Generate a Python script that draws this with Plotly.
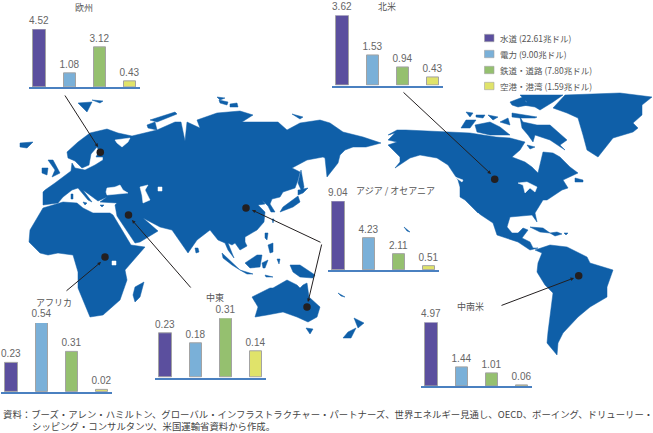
import plotly.graph_objects as go

REGIONS = ["欧州", "北米", "アジア / オセアニア", "アフリカ", "中東", "中南米"]
WATER = [4.52, 3.62, 9.04, 0.23, 0.23, 4.97]
POWER = [1.08, 1.53, 4.23, 0.54, 0.18, 1.44]
RAIL = [3.12, 0.94, 2.11, 0.31, 0.31, 1.01]
AIRPORT = [0.43, 0.43, 0.51, 0.02, 0.14, 0.06]
SERIES_LABELS = ["水道 (22.61兆ドル)", "電力 (9.00兆ドル)", "鉄道・道路 (7.80兆ドル)", "空港・港湾 (1.59兆ドル)"]
SERIES_COLORS = ["#5b4f9e", "#7ab0d8", "#95c06f", "#e0e36a"]
FOOT1 = "資料：ブーズ・アレン・ハミルトン、グローバル・インフラストラクチャー・パートナーズ、世界エネルギー見通し、OECD、ボーイング、ドリューリー・"
FOOT2 = "シッピング・コンサルタンツ、米国運輸省資料から作成。"

# panel frames in pixels: left edge, baseline, pixels per unit, title centre
PANEL_LEFT = [29, 332, 328, 1, 155, 421]
PANEL_BASE = [87, 85.5, 270.3, 392, 377.7, 386]
PANEL_SCALE = [12.75, 19.35, 7.65, 128, 191.6, 12.8]
TITLE_POS = [(84, 8), (387, 6), (395, 190), (54, 302), (215, 297), (470, 306)]

# base map outline (pixel frame of the picture)
LAND = [
    [(43,192),(45,190),(55,183),(63,177),(71,171),(72,163),(75,168),(85,170),(95,165),(103,160),(103,157),(96,157),(99,151),(97,147),
     (91,154),(89,165),(82,168),(75,161),(68,158),(67,152),(78,142),(90,133),(107,129),(118,133),(132,136),(157,130),(175,122),(181,122),
     (185,141),(187,122),(200,128),(197,120),(217,113),(240,111),(253,115),(242,122),(263,122),(278,122),(287,130),(300,123),(320,120),
     (330,123),(343,132),(363,137),(381,143),(366,147),(353,147),(345,150),(340,155),(338,163),(327,177),(325,158),(323,157),(307,160),
     (292,168),(300,172),(298,180),(295,188),(283,192),(280,197),(272,199),(270,204),(275,212),(271,212),(268,206),(262,200),(265,204),
     (258,205),(265,212),(264,222),(257,230),(245,237),(245,242),(247,246),(240,250),(235,243),(232,245),(228,243),(234,258),(228,250),
     (225,243),(218,240),(210,230),(197,240),(188,253),(172,230),(160,227),(143,218),(152,226),(158,231),(140,242),(135,243),(117,216),
     (115,205),(117,203),(100,202),(107,197),(98,201),(83,190),(92,202),(88,200),(78,188),(72,190),(63,197),(58,203),(43,205)],
    [(43,208),(37,218),(30,230),(29,242),(40,253),(48,255),(58,253),(73,255),(78,272),(78,288),(90,317),(103,315),(120,300),(127,280),
     (125,270),(145,247),(131,245),(113,215),(110,213),(93,213),(83,208),(77,203),(63,202)],
    [(135,287),(144,282),(140,297),(135,302),(133,295)],
    [(48,160),(53,160),(60,173),(52,177),(55,170)], [(42,168),(48,168),(47,175),(42,173)], [(20,143),(33,142),(27,148),(20,147)],
    [(78,103),(92,102),(87,112)], [(92,100),(103,101),(100,103)], [(150,120),(175,112),(177,114),(157,122)], [(147,125),(155,122),(157,130),(148,128)],
    [(217,97),(225,98),(220,100)], [(219,100),(228,102),(227,105),(220,103)], [(230,104),(237,103),(238,107),(230,107)], [(292,114),(303,117),(300,119)],
    [(301,170),(304,187),(302,192),(298,183)], [(298,190),(308,188),(303,193),(298,195)], [(298,196),(300,202),(293,207),(280,212),(283,207)],
    [(265,233),(268,233),(267,240),(265,238)], [(268,245),(273,243),(273,252),(270,253)], [(242,232),(245,232),(244,235)],
    [(222,253),(233,263),(240,270),(232,265),(223,258)], [(240,270),(253,274),(247,274)], [(245,263),(257,255),(262,255),(260,267),(250,268)],
    [(262,263),(268,260),(265,268),(263,268)], [(290,265),(300,265),(315,275),(313,278),(300,277),(293,272)], [(265,275),(273,277),(266,277)],
    [(195,248),(198,248),(199,252),(196,253)], [(272,219),(274,219),(273,223)], [(277,259),(280,259),(279,264)],
    [(71,194),(73,194),(73,199),(71,199)], [(83,202),(87,203),(85,205)], [(100,205),(104,205),(102,207)],
    [(252,297),(270,288),(273,288),(287,280),(297,285),(300,288),(303,285),(307,283),(309,297),(320,307),(317,317),(308,322),(297,317),(283,312),(267,315),(255,317),(258,307)],
    [(306,328),(313,329),(310,334)], [(354,318),(364,323),(358,328)], [(356,328),(351,338),(343,338),(348,332)], [(404,227),(410,232),(407,231)], [(338,293),(345,297),(341,296)],
    [(388,135),(397,130),(406,130),(433,131),(445,132),(470,133),(496,137),(510,138),(525,142),(520,150),(512,157),(525,162),(532,167),(538,173),(543,152),(553,153),(560,157),
     (570,167),(578,173),(563,180),(568,188),(562,190),(547,200),(543,200),(535,213),(537,222),(532,215),(510,217),(507,227),(512,233),(518,233),(523,228),(528,230),
     (522,238),(530,242),(533,248),(538,248),(530,250),(518,242),(497,235),(493,223),(478,213),(465,200),(460,197),(460,187),(458,180),(448,165),(437,158),(420,155),
     (410,158),(395,168),(400,162),(400,157),(388,145),(397,142),(388,140),(395,133)],
    [(575,178),(583,180),(583,182),(575,182)],
    [(461,128),(466,120),(476,120),(470,128)], [(475,125),(490,122),(500,127),(510,135),(490,135),(477,132)], [(466,112),(473,113),(470,117)],
    [(476,115),(485,115),(483,118),(476,117)], [(488,115),(498,117),(493,120)], [(500,122),(508,118),(510,125)],
    [(520,117),(523,122),(537,125),(550,125),(567,140),(560,145),(565,150),(550,140),(535,135),(533,142),(528,135),(522,128)],
    [(530,95),(563,95),(553,102),(540,110),(535,107),(523,105),(527,102),(520,95)], [(510,102),(523,97),(528,105),(518,107),(512,105)],
    [(512,113),(537,117),(535,118),(520,118),(512,117)], [(527,145),(535,147),(530,149)],
    [(553,108),(565,95),(620,93),(652,97),(642,105),(642,115),(633,123),(638,128),(633,132),(613,138),(598,157),(587,150),(583,135),(578,118),(567,113)],
    [(530,227),(543,228),(550,233),(540,232)], [(550,233),(557,232),(562,234),(555,236)], [(564,233),(568,233),(566,235)],
    [(535,250),(550,245),(567,247),(587,257),(590,263),(613,270),(607,287),(607,297),(590,307),(578,317),(563,333),(558,343),(557,355),(547,343),(548,332),(553,293),(545,285),(537,272),(538,263),(542,253)],
]
WATER_BODIES = [
    [(115,140),(130,138),(128,142),(122,147),(117,143)],
    [(107,188),(115,187),(120,185),(123,190),(128,193),(120,194),(107,195),(106,192)],
    [(140,187),(148,185),(145,190),(150,200),(143,203),(142,195)],
    [(158,187),(162,187),(162,191),(158,191)],
    [(112,261),(116,261),(116,265),(112,265)],
    [(518,183),(527,182),(537,187),(535,192),(530,188),(525,193),(523,185)],
    [(478,213),(487,226),(484,224)],
    [(455,177),(463,180),(462,182)],
]
DOT_X = [100.3, 246, 128.5, 105, 307, 494.7, 578.7]
DOT_Y = [152.3, 208, 215, 257, 307, 179.3, 275.7]
LEADERS = [((64,94),(98,147)), ((402,91),(491,174)), ((192,289),(132,220)), ((65,292),(101,262)),
           ((500,306),(574,278)), ((322,243),(252,210)), ((322,243),(308,302))]

def flat(polys):
    xs, ys = [], []
    for p in polys:
        xs += [q[0] for q in p] + [p[0][0], None]
        ys += [q[1] for q in p] + [p[0][1], None]
    return xs, ys

W, H = 653, 433
fig = go.Figure()
lx, ly = flat(LAND)
fig.add_trace(go.Scatter(x=lx, y=ly, mode="lines", fill="toself", fillcolor="#0f5fa8", line=dict(color="#0f5fa8", width=0.5), hoverinfo="skip", showlegend=False))
wx, wy = flat(WATER_BODIES)
fig.add_trace(go.Scatter(x=wx, y=wy, mode="lines", fill="toself", fillcolor="#ffffff", line=dict(color="#ffffff", width=0.5), hoverinfo="skip", showlegend=False))
fig.add_trace(go.Scatter(x=DOT_X, y=DOT_Y, mode="markers", marker=dict(size=7.5, color="#231f20"), hoverinfo="skip", showlegend=False))

layout = dict(
    width=W, height=H, autosize=False, margin=dict(l=0, r=0, t=0, b=0),
    paper_bgcolor="#ffffff", plot_bgcolor="rgba(0,0,0,0)", showlegend=False, bargap=0,
    xaxis=dict(domain=[0, 1], range=[0, W], visible=False, fixedrange=True),
    yaxis=dict(domain=[0, 1], range=[H, 0], visible=False, fixedrange=True),
)
annotations, shapes = [], []
JP = "Noto Sans CJK JP, Noto Sans, sans-serif"
NUM = "Liberation Sans, Arial, sans-serif"

for i, region in enumerate(REGIONS):
    vals = [WATER[i], POWER[i], RAIL[i], AIRPORT[i]]
    n = i + 2
    top = max(vals)
    top_px = PANEL_BASE[i] - top * PANEL_SCALE[i]
    fig.add_trace(go.Bar(
        x=[0, 1, 2, 3], y=vals, width=0.41, xaxis=f"x{n}", yaxis=f"y{n}",
        marker=dict(color=SERIES_COLORS, line=dict(color="#a3a3a3", width=1)),
        text=[f"{v:.2f}" for v in vals], textposition="outside", cliponaxis=False,
        constraintext="none", textfont=dict(family=NUM, size=10, color="#666666"),
        hoverinfo="skip", showlegend=False))
    layout[f"xaxis{n}"] = dict(domain=[PANEL_LEFT[i] / W, (PANEL_LEFT[i] + 111) / W], range=[-0.35, 3.33],
                               anchor=f"y{n}", showgrid=False, zeroline=False, showticklabels=False, ticks="",
                               showline=True, linecolor="#4a80c0", linewidth=1.5, fixedrange=True)
    layout[f"yaxis{n}"] = dict(domain=[1 - PANEL_BASE[i] / H, 1 - top_px / H], range=[0, top],
                               anchor=f"x{n}", visible=False, fixedrange=True)
    annotations.append(dict(xref="paper", yref="paper", x=TITLE_POS[i][0] / W, y=1 - TITLE_POS[i][1] / H,
                            text=region, showarrow=False, xanchor="center", yanchor="middle",
                            font=dict(family=JP, size=9, color="#555555")))

for a, b in LEADERS:
    annotations.append(dict(xref="x", yref="y", axref="x", ayref="y", x=b[0], y=b[1], ax=a[0], ay=a[1], text="",
                            showarrow=True, arrowhead=2, arrowsize=0.7, arrowwidth=1, arrowcolor="#231f20", standoff=0))

LEGEND_Y = [38, 54, 70, 86]
for label, color, y in zip(SERIES_LABELS, SERIES_COLORS, LEGEND_Y):
    shapes.append(dict(type="rect", xref="x", yref="y", x0=484.5, x1=494, y0=y - 3.7, y1=y + 3.7,
                       fillcolor=color, line=dict(color="#a3a3a3", width=0.6)))
    annotations.append(dict(xref="x", yref="y", x=498, y=y, text=label, showarrow=False, xanchor="left", yanchor="middle",
                            font=dict(family=JP, size=8.5, color="#555555")))

annotations.append(dict(xref="x", yref="y", x=1, y=413.5, text=FOOT1, showarrow=False, xanchor="left", yanchor="middle",
                        font=dict(family=JP, size=9.4, color="#444444")))
annotations.append(dict(xref="x", yref="y", x=30, y=426, text=FOOT2, showarrow=False, xanchor="left", yanchor="middle",
                        font=dict(family=JP, size=9.4, color="#444444")))
layout["annotations"] = annotations
layout["shapes"] = shapes
fig.update_layout(**layout)
fig.write_html("out.html", post_script="document.body.style.margin='0';", config={"displayModeBar": False})
